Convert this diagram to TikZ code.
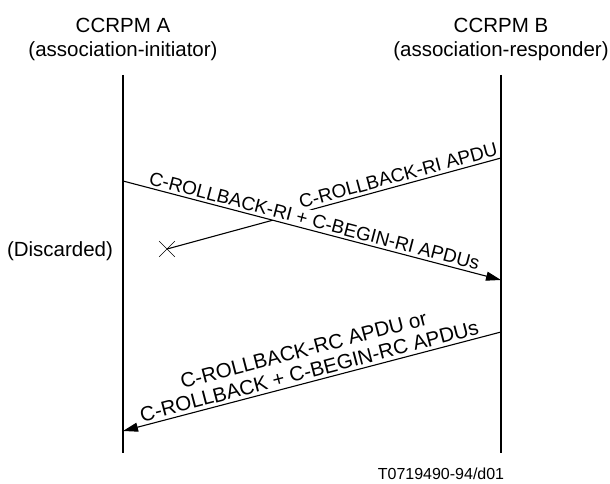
\documentclass[tikz,border=0pt]{standalone}
\usepackage{fontspec}
\setmainfont{Liberation Sans}
\usetikzlibrary{arrows.meta,shapes.misc,positioning}

\begin{document}
\begin{tikzpicture}[x=1pt, y=-1pt,
    head/.style={align=center, font=\fontsize{20.5}{24}\selectfont, inner sep=0pt},
    lifeline/.style={line width=1.1pt},
    msg/.style={line width=1.1pt, -{Triangle[length=15pt,width=9pt]}},
    lostmsg/.style={line width=1.1pt},
    lbl/.style={sloped, above, font=\fontsize{19}{21}\selectfont, inner sep=3pt, align=center}]

    \useasboundingbox (0,0) rectangle (610,484);

    % Entities
    \node[head] (ccrpmA) at (123,39) {CCRPM A\\(association-initiator)};
    \node[head] (ccrpmB) at (501,39) {CCRPM B\\(association-responder)};

    % Lifelines
    \coordinate (aTop) at (123,75);
    \coordinate (aBot) at (123,453);
    \coordinate (bTop) at (501,75);
    \coordinate (bBot) at (501,453);
    \draw[lifeline] (aTop) -- (aBot);
    \draw[lifeline] (bTop) -- (bBot);

    % Message end points
    \coordinate (a1) at (123,181);
    \coordinate (b1) at (501,280);
    \coordinate (b2) at (501,158);
    \coordinate (b3) at (501,332);
    \coordinate (a3) at (123,431);
    \node[draw, cross out, minimum size=15pt, inner sep=0pt, line width=0.6pt] (lostX) at (167,249) {};

    % Lost rollback from B
    \draw[lostmsg] (b2) -- (lostX.center) node[lbl, pos=0.3] {C-ROLLBACK-RI APDU};

    % Rollback + begin from A
    \path (a1) -- (b1) node[lbl, fill=white, pos=0.5] {C-ROLLBACK-RI + C-BEGIN-RI APDUs};
    \draw[msg] (a1) -- (b1);

    % Confirm from B
    \draw[msg] (b3) -- (a3) node[lbl, pos=0.5, font=\fontsize{20.5}{22}\selectfont] {C-ROLLBACK-RC APDU or\\C-ROLLBACK + C-BEGIN-RC APDUs};

    % Notes
    \node[font=\fontsize{20.5}{24}\selectfont] (disc) at (60,251) {(Discarded)};
    \node[font=\fontsize{16}{19}\selectfont] (figId) at (441,474) {T0719490-94/d01};
\end{tikzpicture}
\end{document}
